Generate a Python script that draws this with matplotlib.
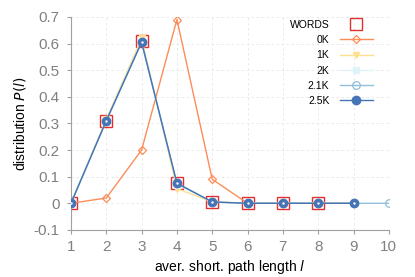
import numpy as np
from matplotlib import pyplot as plt

plt.rcParams['font.family'] = ['Liberation Sans', 'DejaVu Sans']

# path lengths l and distributions P(l)
words_l = [1, 2, 3, 4, 5, 6, 7, 8]
words_p = [0.0, 0.31, 0.61, 0.075, 0.005, 0.0, 0.0, 0.0]

k0_l = [1, 2, 3, 4, 5, 6, 7, 8, 9]
k0_p = [0.0, 0.02, 0.20, 0.69, 0.09, 0.0, 0.0, 0.0, 0.0]

k1_l = [1, 2, 3, 4, 5, 6, 7, 8, 9]
k1_p = [0.0, 0.315, 0.62, 0.055, 0.005, 0.0, 0.0, 0.0, 0.0]

k2_l = [1, 2, 3, 4, 5, 6, 7, 8, 9]
k2_p = [0.0, 0.31, 0.61, 0.07, 0.005, 0.0, 0.0, 0.0, 0.0]

k21_l = [1, 2, 3, 4, 5, 6, 7, 8, 9, 10]
k21_p = [0.0, 0.31, 0.605, 0.075, 0.005, 0.0, 0.0, 0.0, 0.0, 0.0]

k25_l = [1, 2, 3, 4, 5, 6, 7, 8, 9]
k25_p = [0.0, 0.31, 0.605, 0.075, 0.005, 0.0, 0.0, 0.0, 0.0]

fig = plt.figure(figsize=(4.15, 2.77), dpi=100)
ax = fig.add_axes([0.171, 0.170, 0.766, 0.769])

ax.plot(words_l, words_p, 's', ms=8, mfc='none', mec='#e3302f', mew=1.0, label='WORDS', zorder=2)
ax.plot(k0_l, k0_p, '-', color='#fc8d59', lw=1.0, marker='D', ms=4.5, mfc='none', mew=0.9, label='0K', zorder=3)
ax.plot(k1_l, k1_p, '-', color='#fee090', lw=1.0, marker='v', ms=4.5, label='1K', zorder=4)
ax.plot(k2_l, k2_p, '-', color='#e0f3f8', lw=1.0, marker='s', ms=5, label='2K', zorder=5)
ax.plot(k21_l, k21_p, '-', color='#91bfdb', lw=1.0, marker='o', ms=5.5, mfc='none', mew=0.9, label='2.1K', zorder=6)
ax.plot(k25_l, k25_p, '-', color='#4575b4', lw=1.0, marker='o', ms=6, label='2.5K', zorder=7)
ax.plot(k25_l, k25_p, '.', color='white', ms=1.5, zorder=8)

ax.set_xlim(1, 10)
ax.set_ylim(-0.1, 0.7)
ax.set_xticks(range(1, 11))
ax.set_yticks(np.arange(-0.1, 0.71, 0.1))
ax.set_yticklabels(['-0.1', '0', '0.1', '0.2', '0.3', '0.4', '0.5', '0.6', '0.7'])

ax.grid(True, color='#e6e6e6', linestyle='--', linewidth=0.6, dashes=(3, 3))
for side in ['top', 'right']:
    ax.spines[side].set_visible(False)
for side in ['left', 'bottom']:
    ax.spines[side].set_color('#a0a0a0')
ax.tick_params(colors='#a0a0a0', labelcolor='#808080', labelsize=11, length=3, direction='out')
ax.tick_params(axis='y', pad=5)
ax.tick_params(axis='x', pad=4)

ax.set_xlabel('aver. short. path length $\\it{l}$', fontsize=10, labelpad=3)
ax.set_ylabel('distribution $\\it{P(l)}$', fontsize=10, labelpad=4)

ax.legend(loc='upper right', bbox_to_anchor=(0.98, 1.03), frameon=False, markerfirst=False,
          fontsize=7.5, handlelength=3.2, labelspacing=0.5, handletextpad=1.0)

plt.savefig('out.png', dpi=100)
